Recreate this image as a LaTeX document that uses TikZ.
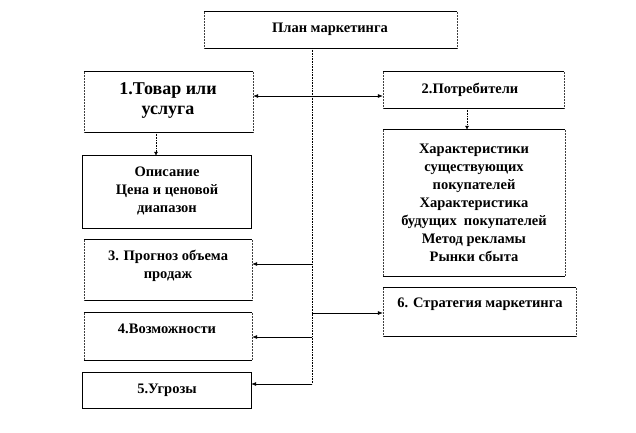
\documentclass[tikz,border=0pt]{standalone}
\usepackage{fontspec}
\setmainfont{Liberation Serif}
\usetikzlibrary{arrows.meta}
\begin{document}
\begin{tikzpicture}[x=1pt,y=-1pt,
  boxsolid/.style={draw=none,inner sep=0pt},
  txt/.style={font=\bfseries\fontsize{14.5}{18}\selectfont,align=center,inner sep=0pt},
  bigtxt/.style={font=\bfseries\fontsize{18}{20}\selectfont,align=center,inner sep=0pt},
  arr/.style={-{Latex[length=5pt,width=4pt]},line width=0.6pt},
  darr/.style={{Latex[length=5pt,width=4pt]}-{Latex[length=5pt,width=4pt]},line width=0.6pt},
  dotarr/.style={-{Latex[length=4pt,width=4pt]},densely dotted,line width=0.6pt},
  trunk/.style={densely dotted,line width=0.6pt},
  hline/.style={line width=0.7pt},
  vline/.style={densely dotted,line width=0.5pt,black!75}
]
\useasboundingbox (0,0) rectangle (636,432);
\newcommand{\dotbox}[1]{%
  \draw[hline] (#1.north west) -- (#1.north east);
  \draw[hline] (#1.south west) -- (#1.south east);
  \draw[vline] (#1.north west) -- (#1.south west);
  \draw[vline] (#1.north east) -- (#1.south east);}
\newcommand{\solbox}[1]{%
  \draw[hline] (#1.north west) rectangle (#1.south east);}

\node[boxsolid,minimum width=253pt,minimum height=36pt] (plan) at (330.5,30) {};
\node[boxsolid,minimum width=169pt,minimum height=60pt] (b1) at (168.5,102) {};
\node[boxsolid,minimum width=181pt,minimum height=36pt] (b2) at (473.5,90) {};
\node[boxsolid,minimum width=182pt,minimum height=146pt] (ch) at (474,203) {};
\node[boxsolid,minimum width=168pt,minimum height=72pt] (op) at (167,192) {};
\node[boxsolid,minimum width=168pt,minimum height=60pt] (b3) at (168,270) {};
\node[boxsolid,minimum width=168pt,minimum height=47pt] (b4) at (168,336.5) {};
\node[boxsolid,minimum width=168pt,minimum height=35pt] (b5) at (167,390.5) {};
\node[boxsolid,minimum width=193pt,minimum height=48pt] (b6) at (479.5,312) {};

\dotbox{plan}
\dotbox{b1}
\dotbox{b2}
\dotbox{ch}
\solbox{op}
\dotbox{b3}
\dotbox{b4}
\solbox{b5}
\dotbox{b6}

% texts
\node[txt] (tplan) at (330,29) {План маркетинга};
\node[bigtxt] (t1) at (168,100) {1.Товар или\\услуга};
\node[txt] (t2) at (470,90) {2.Потребители};
\node[txt] (tch) at (474,203) {Характеристики\\существующих\\покупателей\\Характеристика\\будущих\ \ покупателей\\Метод рекламы\\Рынки сбыта};
\node[txt] (top) at (167,191) {Описание\\Цена и ценовой\\диапазон};
\node[txt] (t3) at (168,266) {3. Прогноз объема\\продаж};
\node[txt] (t4) at (167,329) {4.Возможности};
\node[txt] (t5) at (167,390) {5.Угрозы};
\node[txt] (t6) at (480,304) {6. Стратегия маркетинга};

% trunk
\coordinate (ttop) at (312,48);
\coordinate (tbot) at (312,384);
\draw[trunk] (ttop) -- (tbot);

% arrows
\draw[darr] (b1.east |- 0,96) -- (b2.west |- 0,96);
\draw[arr] (ttop |- 0,264) -- (b3.east |- 0,264);
\draw[arr] (ttop |- 0,337) -- (b4.east |- 0,337);
\draw[arr] (tbot) -- (b5.east |- tbot);
\draw[arr] (ttop |- 0,313) -- (b6.west |- 0,313);

% dotted arrows
\coordinate (d1) at (156,132);
\draw[dotarr] (d1) -- (d1 |- op.north);
\coordinate (d2) at (467,108);
\draw[dotarr] (d2) -- (d2 |- ch.north);
\end{tikzpicture}
\end{document}
